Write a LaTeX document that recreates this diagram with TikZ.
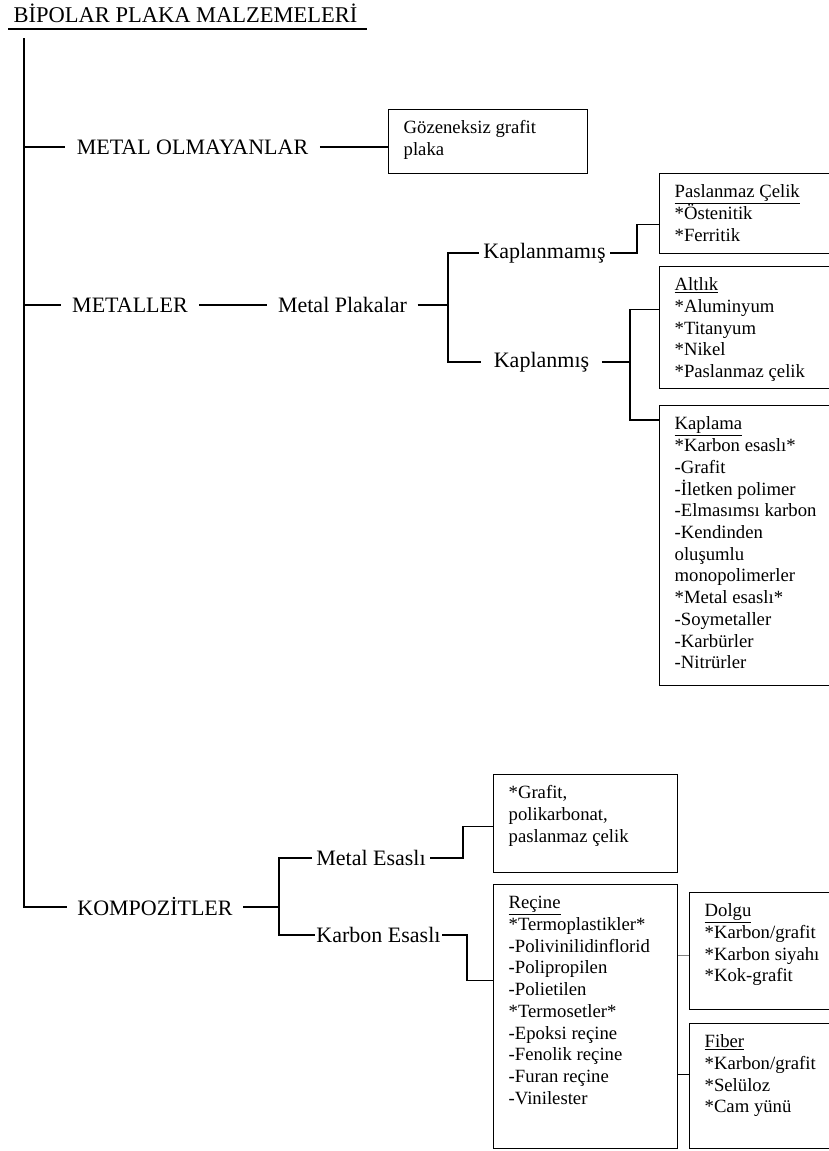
\documentclass[tikz,border=0pt]{standalone}
\usepackage{fontspec}
\setmainfont{Liberation Serif}
\usepackage{pgf,tikz}
\usetikzlibrary{positioning,calc}
\newcommand{\kutu}[3]{\parbox[c][#2][t]{#1}{\begin{tabular}[t]{@{}l@{}}#3\end{tabular}}}

\begin{document}
\begin{tikzpicture}[x=1pt,y=-1pt,line width=1.3pt,
                label node/.style={font=\fontsize{22}{26}\selectfont,inner ysep=2pt,inner xsep=10pt},
                box node/.style={draw,anchor=north west,inner xsep=15pt,inner ysep=9pt,
                                 font=\fontsize{18.7}{21.7}\selectfont}]
\useasboundingbox (0,0) rectangle (829,1151);
%Nodes
    \node[anchor=base west,inner sep=0pt,font=\fontsize{22.5}{26}\selectfont] (baslik) at (13,22) {BİPOLAR PLAKA MALZEMELERİ};
    \draw[line width=1.2pt] ([xshift=-5pt,yshift=-7pt]baslik.base west) -- ([xshift=9pt,yshift=-7pt]baslik.base east);
    \coordinate (kok) at (24,38);

    \node[label node,inner xsep=11pt] (molm) at (192.5,147) {METAL OLMAYANLAR};
    \node[label node,inner xsep=11pt] (metaller) at (130,305) {METALLER};
    \node[label node] (mplak) at (342.5,305) {Metal Plakalar};
    \node[label node,inner xsep=4pt] (kplmms) at (544.5,253) {Kaplanmamış};
    \node[label node,inner xsep=12pt] (kplms) at (541.5,362) {Kaplanmış};
    \node[label node] (komp) at (155,907) {KOMPOZİTLER};
    \node[label node,inner xsep=4pt] (mesas) at (371,858) {Metal Esaslı};
    \node[label node,inner xsep=1pt] (kesas) at (378.5,935) {Karbon Esaslı};

    \node[box node] (gozen) at (388,109) {\kutu{169pt}{46pt}{Gözeneksiz grafit\\{}plaka}};
    \node[box node] (pas) at (659,173) {\kutu{147pt}{62pt}{\underline{Paslanmaz Çelik}\\{}*Östenitik\\{}*Ferritik}};
    \node[box node] (alt) at (659,266) {\kutu{147pt}{104pt}{\underline{Altlık}\\{}*Aluminyum\\{}*Titanyum\\{}*Nikel\\{}*Paslanmaz çelik}};
    \node[box node] (kap) at (659,405) {\kutu{147pt}{262pt}{\underline{Kaplama}\\{}*Karbon esaslı*\\{}-Grafit\\{}-İletken polimer\\{}-Elmasımsı karbon\\{}-Kendinden\\{}oluşumlu\\{}monopolimerler\\{}*Metal esaslı*\\{}-Soymetaller\\{}-Karbürler\\{}-Nitrürler}};
    \node[box node] (mbox) at (493,774) {\kutu{154pt}{80pt}{*Grafit,\\{}polikarbonat,\\{}paslanmaz çelik}};
    \node[box node] (recine) at (493,884) {\kutu{154pt}{246pt}{\underline{Reçine}\\{}*Termoplastikler*\\{}-Polivinilidinflorid\\{}-Polipropilen\\{}-Polietilen\\{}*Termosetler*\\{}-Epoksi reçine\\{}-Fenolik reçine\\{}-Furan reçine\\{}-Vinilester}};
    \node[box node] (dolgu) at (689,892) {\kutu{117pt}{99pt}{\underline{Dolgu}\\{}*Karbon/grafit\\{}*Karbon siyahı\\{}*Kok-grafit}};
    \node[box node] (fiber) at (689,1023) {\kutu{117pt}{107pt}{\underline{Fiber}\\{}*Karbon/grafit\\{}*Selüloz\\{}*Cam yünü}};

%Edges
    \coordinate (f1) at (448,305);
    \coordinate (f2) at (637,253);
    \coordinate (f3) at (630,362);
    \coordinate (f4) at (279,907);
    \coordinate (f5) at (463,858);
    \coordinate (f6) at (467,935);
    \coordinate (d1) at ([yshift=-4pt]dolgu.west);
    \coordinate (d2) at ([yshift=12pt]fiber.west);

    \draw (kok) |- (komp.west);
    \draw (kok |- molm.west) -- (molm.west);
    \draw (kok |- metaller.west) -- (metaller.west);
    \draw (molm.east) -- (gozen.west |- molm.east);
    \draw (metaller.east) -- (mplak.west);
    \draw (mplak.east) -- (f1);
    \draw (kplmms.west) -| (f1) |- (kplms.west);
    \draw (kplmms.east) -- (f2) |- ([yshift=-11pt]pas.west);
    \draw (kplms.east) -- (f3);
    \draw ([yshift=18pt]alt.west) -| (f3) |- ([yshift=-15pt]kap.north west);
    \draw (komp.east) -- (f4);
    \draw (mesas.west) -| (f4) |- (kesas.west);
    \draw (mesas.east) -- (f5) |- ([yshift=-3pt]mbox.west);
    \draw (kesas.east) -- (f6) |- ([yshift=36pt]recine.west);
    \draw[gray,line width=0.8pt] (recine.east |- d1) -- (d1);
    \draw (recine.east |- d2) -- (d2);
\end{tikzpicture}
\end{document}
